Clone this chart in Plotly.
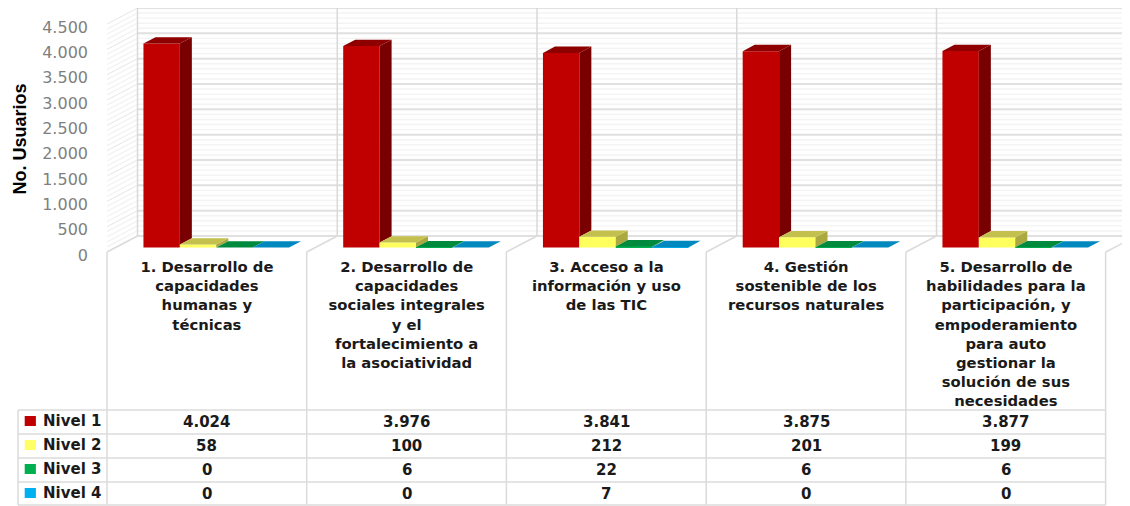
import plotly.graph_objects as go

# ---------- data ----------
categories = [
    "1. Desarrollo de<br>capacidades<br>humanas y<br>técnicas",
    "2. Desarrollo de<br>capacidades<br>sociales integrales<br>y el<br>fortalecimiento a<br>la asociatividad",
    "3. Acceso a la<br>información y uso<br>de las TIC",
    "4. Gestión<br>sostenible de los<br>recursos naturales",
    "5. Desarrollo de<br>habilidades para la<br>participación, y<br>empoderamiento<br>para auto<br>gestionar la<br>solución de sus<br>necesidades",
]
series_names = ["Nivel 1", "Nivel 2", "Nivel 3", "Nivel 4"]
nivel_1 = [4024, 3976, 3841, 3875, 3877]
nivel_2 = [58, 100, 212, 201, 199]
nivel_3 = [0, 6, 22, 6, 6]
nivel_4 = [0, 0, 7, 0, 0]
y_ticks = [0, 500, 1000, 1500, 2000, 2500, 3000, 3500, 4000, 4500]
y_tick_labels = ["0", "500", "1.000", "1.500", "2.000", "2.500", "3.000", "3.500", "4.000", "4.500"]
series_values = [nivel_1, nivel_2, nivel_3, nivel_4]

front_colors = ["#C00000", "#FFFF5E", "#00B050", "#00B0F0"]
top_colors = ["#8E0000", "#C4C04E", "#008A3E", "#0088BF"]
side_colors = ["#780000", "#ABA83F", "#006E31", "#006E99"]
key_colors = ["#C00000", "#FFFF66", "#00B050", "#00B0F0"]

# ---------- geometry of the page ----------
PAGE_W, PAGE_H = 1130, 506
PAD = 8                    # the page's own body margin
W, H = PAGE_W - PAD, PAGE_H - PAD
FLOOR_PY = 252.0           # page row of value 0 on the front plane
K = 228.0 / 4500           # pixels per value unit
U = 199.75                 # pixels per category
CX0 = 206.9                # page column of first category centre


def xd(px):
    return (px - CX0) / U


def yd(py):
    return (FLOOR_PY - py) / K


WALL_DX, WALL_DY = 30.5 / U, 16.0 / K     # floor depth
BAR_BASE = 4.5 / K                        # front of bars sits a little back
BAR_W = 36.4 / U
BAR_DX, BAR_DY = 12.0 / U, 6.3 / K        # bar depth
GROUP_SHIFT = (216.25 - CX0) / U

GRID_MAJOR = "#E0E0E0"
GRID_MINOR = "#F3F3F3"
TABLE = "#DBDBDB"
TEXT = "#1A1A1A"

fig = go.Figure()

# ---------- bars: front faces through bar traces ----------
for s, vals in enumerate(series_values):
    xs = [i + GROUP_SHIFT + (s - 1.5) * BAR_W for i in range(len(vals))]
    fig.add_trace(go.Bar(
        x=xs, y=vals, base=[BAR_BASE] * len(vals), width=BAR_W,
        marker=dict(color=front_colors[s], line=dict(width=0)),
        name=series_names[s], showlegend=False, hoverinfo="name+y",
    ))

# ---------- bars: side and top faces derived from the same values ----------
for s, vals in enumerate(series_values):
    sx, sy, tx, ty = [], [], [], []
    for i, v in enumerate(vals):
        left = i + GROUP_SHIFT + (s - 2) * BAR_W
        right = left + BAR_W
        top = BAR_BASE + v
        nb = series_values[s + 1][i] if s < 3 else 0
        low = BAR_BASE + min(nb, v)
        sx += [right, right + BAR_DX, right + BAR_DX, right, right, None]
        sy += [top, top + BAR_DY, low + BAR_DY, low, top, None]
        tx += [left, left + BAR_DX, right + BAR_DX, right, left, None]
        ty += [top, top + BAR_DY, top + BAR_DY, top, top, None]
    fig.add_trace(go.Scatter(x=sx, y=sy, mode="lines", fill="toself", fillcolor=side_colors[s],
                             line=dict(width=0, color=side_colors[s]), hoverinfo="skip", showlegend=False))
    fig.add_trace(go.Scatter(x=tx, y=ty, mode="lines", fill="toself", fillcolor=top_colors[s],
                             line=dict(width=0, color=top_colors[s]), hoverinfo="skip", showlegend=False))

# ---------- legend keys in the data table ----------
ROW_PY = [422.0, 446.0, 470.0, 494.0]
for s, name in enumerate(series_names):
    fig.add_trace(go.Scatter(
        x=[xd(30.3)], y=[yd(ROW_PY[s] - 1)], mode="markers",
        marker=dict(symbol="line-ew", size=8, color=key_colors[s],
                    line=dict(width=10, color=key_colors[s])),
        name=name, showlegend=False, hoverinfo="name",
    ))

# ---------- walls and grid ----------
shapes = []


def line(x0, y0, x1, y1, color, width, layer="below"):
    shapes.append(dict(type="line", xref="x", yref="y", x0=x0, y0=y0, x1=x1, y1=y1,
                       line=dict(color=color, width=width), layer=layer))


LEFT = xd(107)
RIGHT = xd(1135)
for v in range(0, 4501, 100):
    if v % 500 == 0:
        continue
    line(LEFT, v, LEFT + WALL_DX, v + WALL_DY, GRID_MINOR, 1.4)
    line(LEFT + WALL_DX, v + WALL_DY, RIGHT, v + WALL_DY, GRID_MINOR, 1.4)
for v in y_ticks:
    line(LEFT, v, LEFT + WALL_DX, v + WALL_DY, "#E6E6E6", 1)
    line(LEFT + WALL_DX, v + WALL_DY, RIGHT, v + WALL_DY, GRID_MAJOR, 2)
for i in range(5):
    bx = LEFT + WALL_DX + i
    line(bx, WALL_DY, bx, 4500 + WALL_DY, "#D9D9D9", 1.5)
for i in range(6):
    fx = LEFT + i
    line(fx, 0, fx + WALL_DX, WALL_DY, TABLE, 1.5)

# ---------- data table ----------
COLS_PY = [18.0, 107.0, 306.7, 506.4, 706.2, 905.9, 1105.6]
ROW_LINES_PY = [410.0, 434.0, 458.0, 482.0, 505.0]
for c in COLS_PY[1:]:
    line(xd(c), 0, xd(c), yd(505), TABLE, 1.5, "above")
line(xd(18), yd(410), xd(18), yd(505), TABLE, 1.5, "above")
for r in ROW_LINES_PY:
    line(xd(18), yd(r), xd(1105.6), yd(r), TABLE, 1.5, "above")

annotations = []
for s, name in enumerate(series_names):
    annotations.append(dict(x=xd(41), y=yd(ROW_PY[s] - 1), xref="x", yref="y", text=name, showarrow=False,
                            xanchor="left", yanchor="middle",
                            font=dict(family="DejaVu Sans", size=15, color=TEXT, weight=600)))
    for i, v in enumerate(series_values[s]):
        label = f"{v:,}".replace(",", ".")
        annotations.append(dict(x=i, y=yd(ROW_PY[s]), xref="x", yref="y", text=label, showarrow=False,
                                xanchor="center", yanchor="middle",
                                font=dict(family="DejaVu Sans", size=15, color=TEXT, weight=600)))

annotations.append(dict(x=(19.5 - PAD) / W, y=1 - (139 - PAD) / H, xref="paper", yref="paper", text="No. Usuarios",
                        textangle=-90, showarrow=False, xanchor="center", yanchor="middle",
                        font=dict(family="Liberation Sans", size=18, color="#000000", weight=700)))

fig.update_layout(
    width=W, height=H, margin=dict(l=0, r=0, t=0, b=0),
    paper_bgcolor="white", plot_bgcolor="white",
    barmode="overlay", showlegend=False, shapes=shapes, annotations=annotations,
    xaxis=dict(
        domain=[0, 1], range=[xd(PAD), xd(PAGE_W)], anchor="free", position=1 - (256 - PAD) / H,
        tickmode="array", tickvals=list(range(5)), ticktext=categories, tickangle=0,
        showgrid=False, zeroline=False, showline=False, ticks="",
        tickfont=dict(family="DejaVu Sans", size=14.8, color=TEXT, weight=600),
    ),
    yaxis=dict(
        domain=[0, 1], range=[yd(PAGE_H), yd(PAD)], anchor="free", position=(88 - PAD) / W,
        tickmode="array", tickvals=y_ticks, ticktext=y_tick_labels, ticklabelshift=3,
        showgrid=False, zeroline=False, showline=False, ticks="",
        tickfont=dict(family="DejaVu Sans", size=16, color="#7F7F7F"),
    ),
)

fig.write_html("out.html")
